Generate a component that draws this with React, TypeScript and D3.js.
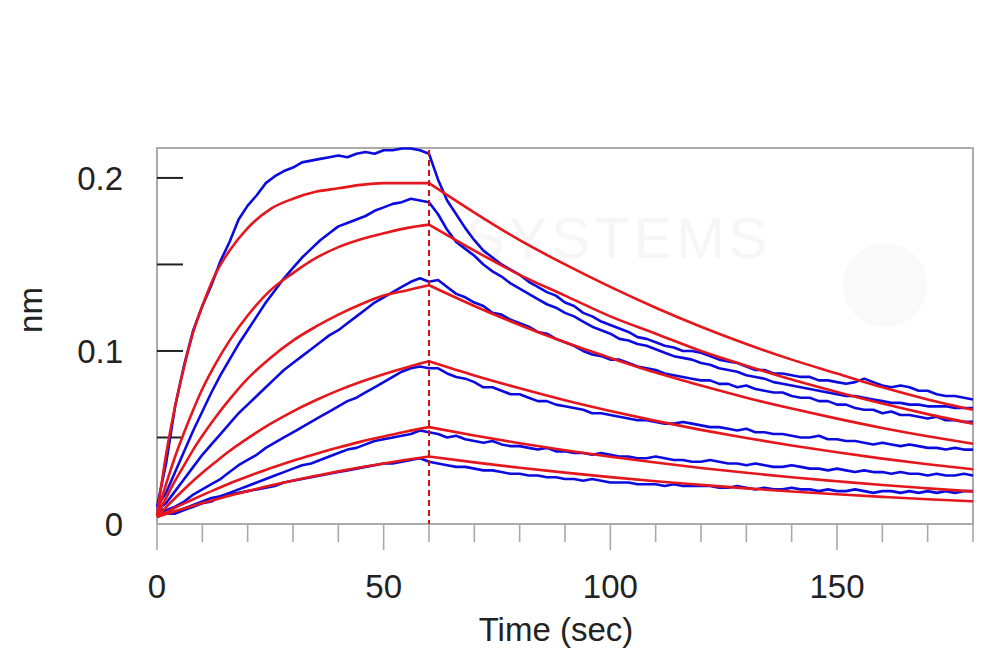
import React from "react";
import * as d3 from "d3";

// ---- Data ----
// Blue measured traces, sampled every 2 s from 0 to 180 s (91 values each)
const blueTimes = d3.range(0, 181, 2);

const blue1 = [
  0.010, 0.035, 0.068, 0.092, 0.112, 0.126, 0.138, 0.152, 0.163, 0.176,
  0.184, 0.190, 0.197, 0.201, 0.204, 0.206, 0.209, 0.210, 0.211, 0.212,
  0.213, 0.212, 0.214, 0.215, 0.214, 0.216, 0.216, 0.217, 0.217, 0.216,
  0.214,
  0.199, 0.187, 0.179, 0.171, 0.164, 0.158, 0.154, 0.150, 0.147, 0.144,
  0.140, 0.137, 0.134, 0.132, 0.128, 0.126, 0.122, 0.120, 0.117, 0.115,
  0.113, 0.111, 0.108, 0.107, 0.105, 0.103, 0.102, 0.100, 0.100, 0.099,
  0.097, 0.095, 0.094, 0.093, 0.091, 0.089, 0.089, 0.087, 0.087, 0.086,
  0.085, 0.085, 0.083, 0.083, 0.082, 0.081, 0.082, 0.084, 0.082, 0.080,
  0.079, 0.080, 0.079, 0.077, 0.077, 0.075, 0.074, 0.074, 0.073, 0.072,
];
const blue2 = [
  0.010, 0.018, 0.030, 0.042, 0.054, 0.065, 0.076, 0.086, 0.095, 0.104,
  0.112, 0.120, 0.128, 0.135, 0.142, 0.148, 0.154, 0.159, 0.164, 0.168,
  0.172, 0.174, 0.176, 0.178, 0.181, 0.183, 0.185, 0.186, 0.188, 0.187,
  0.186,
  0.179, 0.170, 0.163, 0.159, 0.155, 0.150, 0.146, 0.143, 0.139, 0.136,
  0.133, 0.130, 0.127, 0.125, 0.122, 0.120, 0.117, 0.114, 0.112, 0.110,
  0.107, 0.106, 0.104, 0.103, 0.101, 0.099, 0.097, 0.096, 0.095, 0.093,
  0.092, 0.090, 0.089, 0.088, 0.086, 0.085, 0.084, 0.082, 0.081, 0.080,
  0.079, 0.078, 0.077, 0.076, 0.075, 0.074, 0.074, 0.073, 0.072, 0.071,
  0.070, 0.070, 0.069, 0.069, 0.068, 0.068, 0.068, 0.067, 0.067, 0.067,
];
const blue3 = [
  0.008, 0.012, 0.019, 0.026, 0.033, 0.040, 0.046, 0.052, 0.058, 0.064,
  0.069, 0.074, 0.079, 0.084, 0.089, 0.093, 0.097, 0.101, 0.105, 0.109,
  0.112, 0.116, 0.120, 0.124, 0.128, 0.131, 0.134, 0.137, 0.140, 0.142,
  0.140,
  0.141, 0.137, 0.133, 0.131, 0.128, 0.126, 0.122, 0.121, 0.118, 0.116,
  0.114, 0.111, 0.110, 0.107, 0.105, 0.103, 0.100, 0.098, 0.097, 0.095,
  0.095, 0.093, 0.091, 0.090, 0.089, 0.087, 0.086, 0.085, 0.084, 0.083,
  0.083, 0.081, 0.081, 0.079, 0.080, 0.078, 0.077, 0.076, 0.076, 0.074,
  0.073, 0.073, 0.071, 0.071, 0.069, 0.069, 0.067, 0.066, 0.066, 0.064,
  0.065, 0.063, 0.063, 0.062, 0.061, 0.062, 0.060, 0.060, 0.059, 0.059,
];
const blue4 = [
  0.006, 0.008, 0.010, 0.013, 0.017, 0.020, 0.023, 0.026, 0.030, 0.034,
  0.037, 0.040, 0.044, 0.047, 0.050, 0.053, 0.056, 0.059, 0.062, 0.065,
  0.068, 0.071, 0.073, 0.076, 0.079, 0.082, 0.085, 0.088, 0.090, 0.091,
  0.090,
  0.090, 0.087, 0.085, 0.084, 0.082, 0.079, 0.079, 0.077, 0.075, 0.075,
  0.073, 0.071, 0.071, 0.069, 0.068, 0.067, 0.066, 0.064, 0.064, 0.063,
  0.062, 0.061, 0.060, 0.060, 0.059, 0.058, 0.058, 0.059, 0.058, 0.057,
  0.056, 0.056, 0.055, 0.054, 0.055, 0.053, 0.053, 0.052, 0.052, 0.051,
  0.050, 0.050, 0.051, 0.049, 0.049, 0.048, 0.048, 0.047, 0.046, 0.047,
  0.046, 0.045, 0.046, 0.045, 0.044, 0.044, 0.043, 0.044, 0.043, 0.043,
];
const blue5 = [
  0.008, 0.006, 0.006, 0.008, 0.010, 0.012, 0.013, 0.016, 0.018, 0.020,
  0.022, 0.024, 0.026, 0.028, 0.030, 0.032, 0.034, 0.035, 0.037, 0.039,
  0.041, 0.043, 0.044, 0.046, 0.048, 0.049, 0.050, 0.051, 0.052, 0.054,
  0.053,
  0.052, 0.050, 0.051, 0.049, 0.048, 0.047, 0.048, 0.046, 0.045, 0.045,
  0.044, 0.043, 0.044, 0.042, 0.042, 0.041, 0.041, 0.040, 0.041, 0.040,
  0.039, 0.039, 0.038, 0.038, 0.039, 0.038, 0.037, 0.037, 0.036, 0.036,
  0.037, 0.036, 0.035, 0.035, 0.034, 0.035, 0.034, 0.033, 0.033, 0.034,
  0.033, 0.032, 0.032, 0.031, 0.032, 0.031, 0.030, 0.031, 0.030, 0.030,
  0.029, 0.030, 0.029, 0.029, 0.028, 0.029, 0.028, 0.028, 0.029, 0.028,
];
const blue6 = [
  0.010, 0.007, 0.007, 0.009, 0.011, 0.013, 0.015, 0.016, 0.017, 0.018,
  0.019, 0.020, 0.021, 0.022, 0.024, 0.025, 0.026, 0.027, 0.028, 0.029,
  0.030, 0.031, 0.032, 0.033, 0.034, 0.035, 0.035, 0.036, 0.037, 0.038,
  0.036,
  0.035, 0.034, 0.033, 0.033, 0.032, 0.031, 0.031, 0.030, 0.029, 0.029,
  0.028, 0.028, 0.027, 0.027, 0.026, 0.026, 0.025, 0.026, 0.025, 0.024,
  0.024, 0.024, 0.023, 0.023, 0.023, 0.022, 0.023, 0.022, 0.022, 0.022,
  0.022, 0.021, 0.021, 0.022, 0.021, 0.020, 0.021, 0.020, 0.020, 0.021,
  0.020, 0.020, 0.019, 0.020, 0.019, 0.019, 0.020, 0.019, 0.018, 0.019,
  0.019, 0.018, 0.019, 0.018, 0.019, 0.018, 0.019, 0.018, 0.019, 0.019,
];

// Red fitted curves: association (0-60 s) and dissociation (60-180 s)
const redTimesAssoc = [0, 2, 4, 6, 8, 10, 13, 16, 20, 25, 30, 35, 40, 45, 50, 55, 60];
const redTimesDiss = [60, 70, 80, 90, 100, 110, 120, 130, 140, 150, 160, 170, 180];

const red1Assoc = [0.005, 0.040, 0.068, 0.091, 0.111, 0.126, 0.145, 0.158, 0.171, 0.182, 0.188, 0.192, 0.194, 0.196, 0.197, 0.197, 0.197];
const red2Assoc = [0.005, 0.023, 0.039, 0.053, 0.066, 0.078, 0.093, 0.106, 0.1205, 0.135, 0.145, 0.1536, 0.160, 0.1646, 0.168, 0.171, 0.173];
const red3Assoc = [0.005, 0.015, 0.025, 0.034, 0.043, 0.051, 0.062, 0.072, 0.084, 0.096, 0.106, 0.114, 0.121, 0.127, 0.132, 0.135, 0.138];
const red4Assoc = [0.004, 0.0097, 0.015, 0.0201, 0.025, 0.0296, 0.036, 0.0422, 0.0495, 0.0578, 0.0651, 0.0715, 0.0772, 0.0822, 0.0866, 0.0905, 0.094];
const red5Assoc = [0.004, 0.0067, 0.0094, 0.0119, 0.0143, 0.0167, 0.0201, 0.0234, 0.0274, 0.0322, 0.0366, 0.0405, 0.0442, 0.0476, 0.0506, 0.0535, 0.056];
const red6Assoc = [0.004, 0.0057, 0.0074, 0.009, 0.0105, 0.0121, 0.0142, 0.0164, 0.019, 0.0222, 0.0251, 0.0278, 0.0304, 0.0328, 0.035, 0.0371, 0.039];

const red1Diss = [0.197, 0.180, 0.164, 0.150, 0.137, 0.125, 0.114, 0.104, 0.095, 0.087, 0.079, 0.072, 0.066];
const red2Diss = [0.173, 0.158, 0.144, 0.132, 0.120, 0.110, 0.100, 0.0915, 0.0835, 0.0763, 0.0696, 0.0635, 0.058];
const red3Diss = [0.138, 0.126, 0.115, 0.105, 0.096, 0.0875, 0.080, 0.073, 0.0667, 0.0609, 0.0555, 0.0507, 0.0464];
const red4Diss = [0.094, 0.0858, 0.0784, 0.0715, 0.0653, 0.0596, 0.0544, 0.0497, 0.0454, 0.0415, 0.0378, 0.0345, 0.0316];
const red5Diss = [0.056, 0.0511, 0.0467, 0.0426, 0.0389, 0.0355, 0.0324, 0.0296, 0.027, 0.0247, 0.0225, 0.0206, 0.0188];
const red6Diss = [0.039, 0.0356, 0.0325, 0.0297, 0.0271, 0.0247, 0.0226, 0.0206, 0.0188, 0.0172, 0.0157, 0.0143, 0.0131];

const blueSeries = [blue1, blue2, blue3, blue4, blue5, blue6];
const redAssocSeries = [red1Assoc, red2Assoc, red3Assoc, red4Assoc, red5Assoc, red6Assoc];
const redDissSeries = [red1Diss, red2Diss, red3Diss, red4Diss, red5Diss, red6Diss];

const injectionEnd = 60;
const yTickValues = [0.05, 0.1, 0.15, 0.2];
const yLabelValues = [0, 0.1, 0.2];
const xMinorTicks = d3.range(0, 181, 10);
const xLabelValues = [0, 50, 100, 150];
const xTitle = "Time (sec)";
const yTitle = "nm";

export default function App() {
  const left = 157, right = 973, top = 148, bottom = 524;
  const x = d3.scaleLinear().domain([0, 180]).range([left, right]);
  const y = d3.scaleLinear().domain([0, 0.2173]).range([bottom, top]);

  const blueLine = d3
    .line<number>()
    .x((_, i) => x(blueTimes[i]))
    .y((d) => y(d))
    .curve(d3.curveLinear);

  const mkRed = (times: number[]) =>
    d3
      .line<number>()
      .x((_, i) => x(times[i]))
      .y((d) => y(d))
      .curve(d3.curveMonotoneX);
  const redA = mkRed(redTimesAssoc);
  const redD = mkRed(redTimesDiss);

  const font = "'Liberation Sans', Arial, sans-serif";
  const blue = "#0b0be0";
  const red = "#e5161c";

  return (
    <svg
      width={1000}
      height={670}
      style={{ position: "absolute", left: 0, top: 0, background: "#fff" }}
    >
      <rect x={0} y={0} width={1000} height={670} fill="#fff" />
      {/* faint watermark */}
      <text
        x={466}
        y={258}
        fontFamily={font}
        fontSize={58}
        letterSpacing={4}
        fill="#f6f6f6"
      >
        SYSTEMS
      </text>
      <circle cx={885} cy={285} r={42} fill="#f9f9f9" />

      {/* frame */}
      <rect
        x={left}
        y={top}
        width={right - left}
        height={bottom - top}
        fill="none"
        stroke="#ababab"
        strokeWidth={2}
      />

      {/* x ticks below axis */}
      {xMinorTicks.map((t) => (
        <line
          key={"xt" + t}
          x1={x(t)}
          x2={x(t)}
          y1={bottom}
          y2={bottom + (t % 50 === 0 ? 26 : 18)}
          stroke="#a8a8a8"
          strokeWidth={1.6}
        />
      ))}
      {xLabelValues.map((t) => (
        <text
          key={"xl" + t}
          x={x(t)}
          y={598}
          textAnchor="middle"
          fontFamily={font}
          fontSize={33}
          fill="#222"
        >
          {t}
        </text>
      ))}
      <text
        x={556}
        y={641}
        textAnchor="middle"
        fontFamily={font}
        fontSize={33}
        fill="#222"
      >
        {xTitle}
      </text>

      {/* y ticks inside plot */}
      {yTickValues.map((v) => (
        <line
          key={"yt" + v}
          x1={left}
          x2={left + 26}
          y1={y(v)}
          y2={y(v)}
          stroke="#222"
          strokeWidth={2}
        />
      ))}
      {yLabelValues.map((v) => (
        <text
          key={"yl" + v}
          x={123}
          y={y(v) + 12}
          textAnchor="end"
          fontFamily={font}
          fontSize={33}
          fill="#222"
        >
          {v === 0 ? "0" : v.toFixed(1)}
        </text>
      ))}
      <text
        transform="translate(42,310) rotate(-90)"
        textAnchor="middle"
        fontFamily={font}
        fontSize={33}
        fill="#222"
      >
        {yTitle}
      </text>

      {/* blue measured data */}
      {blueSeries.map((s, i) => (
        <path
          key={"b" + i}
          d={blueLine(s) || ""}
          fill="none"
          stroke={blue}
          strokeWidth={2.6}
          strokeLinejoin="round"
        />
      ))}

      {/* red fits */}
      {redAssocSeries.map((s, i) => (
        <path
          key={"ra" + i}
          d={(redA(s) || "") + (redD(redDissSeries[i]) || "")}
          fill="none"
          stroke={red}
          strokeWidth={2.6}
          strokeLinejoin="round"
        />
      ))}

      {/* end of association marker */}
      <line
        x1={x(injectionEnd)}
        x2={x(injectionEnd)}
        y1={top + 2}
        y2={bottom}
        stroke="#d01010"
        strokeWidth={2}
        strokeDasharray="6,4"
      />
    </svg>
  );
}
